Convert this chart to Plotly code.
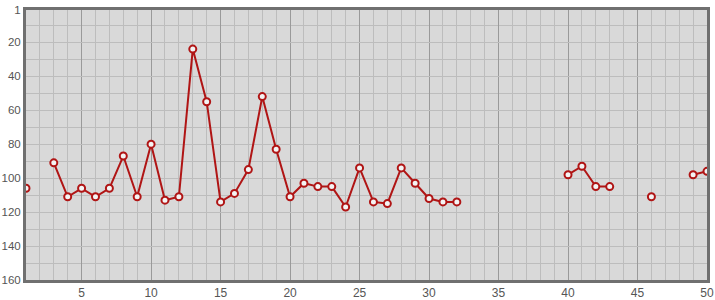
import plotly.graph_objects as go

x_vals = list(range(1, 51))
ranks = [106, None, 91, 111, 106, 111, 106, 87, 111, 80,
         113, 111, 24, 55, 114, 109, 95, 52, 83, 111,
         103, 105, 105, 117, 94, 114, 115, 94, 103, 112,
         114, 114, None, None, None, None, None, None, None, 98,
         93, 105, 105, None, None, 111, None, None, 98, 96]

y_ticks = [1, 20, 40, 60, 80, 100, 120, 140, 160]
x_ticks = [5, 10, 15, 20, 25, 30, 35, 40, 45, 50]

fig = go.Figure()
fig.add_trace(go.Scatter(
    x=x_vals, y=ranks, mode="lines+markers", connectgaps=False,
    line=dict(color="#b01515", width=2),
    marker=dict(symbol="circle", size=7, color="#f4f4f4",
                line=dict(color="#b01515", width=2)),
    hoverinfo="x+y", showlegend=False,
))

fig.update_layout(
    width=715, height=300,
    margin=dict(l=26, r=8, t=10, b=20),
    paper_bgcolor="white", plot_bgcolor="#d9d9d9",
    font=dict(family="Liberation Sans", size=11, color="#555"),
)
fig.update_xaxes(
    range=[1, 50], tickvals=x_ticks, ticks="", showgrid=True, automargin=False,
    gridcolor="#9a9a9a", gridwidth=1, zeroline=False,
    minor=dict(dtick=1, tick0=0, showgrid=True, gridcolor="#bdbdbd", gridwidth=1),
    showline=True, linecolor="#707070", linewidth=3, mirror=True,
    tickfont=dict(family="Liberation Sans", size=12, color="#555"),
)
fig.update_yaxes(
    range=[160, 1], tickvals=y_ticks, ticks="", showgrid=True, automargin=False,
    gridcolor="#bdbdbd", gridwidth=1, zeroline=False,
    minor=dict(dtick=10, tick0=0, showgrid=True, gridcolor="#bdbdbd", gridwidth=1),
    showline=True, linecolor="#707070", linewidth=3, mirror=True,
    ticklabelstandoff=0,
    tickfont=dict(family="Liberation Sans", size=11.5, color="#555"),
)

fig.write_html("out.html")
